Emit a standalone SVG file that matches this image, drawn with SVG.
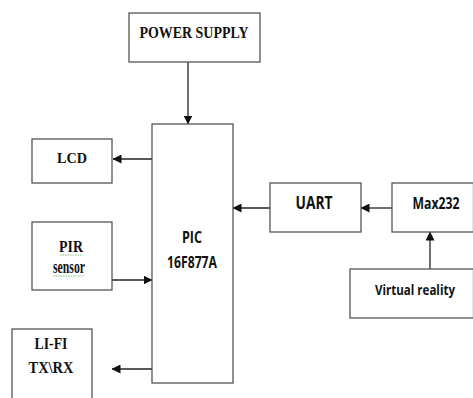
<svg xmlns="http://www.w3.org/2000/svg" width="473" height="398" viewBox="0 0 473 398">
<style>
.box{fill:#fff;stroke:#555;stroke-width:1.3}
.ser{font-family:"Liberation Serif","Times New Roman",serif;font-weight:bold;fill:#111;text-anchor:middle}
.san{font-family:"Open Sans","Liberation Sans",Arial,sans-serif;font-weight:bold;fill:#111;text-anchor:middle}
.ln{stroke:#222;stroke-width:1.3;fill:none;marker-end:url(#ah)}
.sq{stroke:#7cc47c;stroke-width:1;stroke-dasharray:1.5 1;fill:none}
</style>
<defs>
<marker id="ah" markerWidth="9" markerHeight="9" refX="8.5" refY="4.5" orient="auto" markerUnits="userSpaceOnUse">
<path d="M0,0 L9,4.5 L0,9 Z" fill="#111"/>
</marker>
</defs>
<rect width="473" height="398" fill="#fff"/>
<g id="connectors">
<line class="ln" x1="188" y1="62" x2="188" y2="124"/>
<line class="ln" x1="152" y1="159" x2="113" y2="159"/>
<line class="ln" x1="112" y1="280" x2="152" y2="280"/>
<line class="ln" x1="152" y1="369" x2="112" y2="369"/>
<line class="ln" x1="270" y1="208" x2="233" y2="208"/>
<line class="ln" x1="392" y1="208" x2="361" y2="208"/>
<line class="ln" x1="430" y1="269" x2="430" y2="232"/>
</g>
<g id="power">
<rect class="box" x="129" y="13" width="131" height="49"/>
<text class="ser" x="194" y="38" font-size="17" textLength="109" lengthAdjust="spacingAndGlyphs">POWER SUPPLY</text>
</g>
<g id="pic">
<rect class="box" x="152" y="124" width="81" height="259"/>
<text class="san" x="192" y="243" font-size="16" textLength="20" lengthAdjust="spacingAndGlyphs">PIC</text>
<text class="san" x="192" y="268" font-size="16" textLength="50" lengthAdjust="spacingAndGlyphs">16F877A</text>
</g>
<g id="lcd">
<rect class="box" x="32" y="139" width="80" height="44"/>
<text class="ser" x="72" y="163" font-size="15" textLength="30" lengthAdjust="spacingAndGlyphs">LCD</text>
</g>
<g id="pir">
<rect class="box" x="32" y="222" width="80" height="68"/>
<text class="ser" x="71" y="252" font-size="17" textLength="24" lengthAdjust="spacingAndGlyphs">PIR</text>
<path class="sq" d="M60,255 H83"/>
<text class="ser" x="69" y="273" font-size="18" textLength="32" lengthAdjust="spacingAndGlyphs">sensor</text>
<path class="sq" d="M53,276 H85"/>
</g>
<g id="lifi">
<rect class="box" x="12" y="329" width="80" height="80"/>
<text class="ser" x="51" y="349" font-size="16" textLength="33" lengthAdjust="spacingAndGlyphs">LI-FI</text>
<text class="ser" x="51" y="373" font-size="16" textLength="45" lengthAdjust="spacingAndGlyphs">TX\RX</text>
</g>
<g id="uart">
<rect class="box" x="270" y="183" width="91" height="49"/>
<text class="san" x="314" y="209" font-size="17" textLength="37" lengthAdjust="spacingAndGlyphs">UART</text>
</g>
<g id="max232">
<rect class="box" x="392" y="183" width="81.5" height="49"/>
<text class="san" x="436" y="209" font-size="16" textLength="47" lengthAdjust="spacingAndGlyphs">Max232</text>
</g>
<g id="vr">
<rect class="box" x="350" y="269" width="123.5" height="49"/>
<text class="san" x="415" y="295" font-size="15" textLength="80" lengthAdjust="spacingAndGlyphs">Virtual reality</text>
</g>
</svg>
